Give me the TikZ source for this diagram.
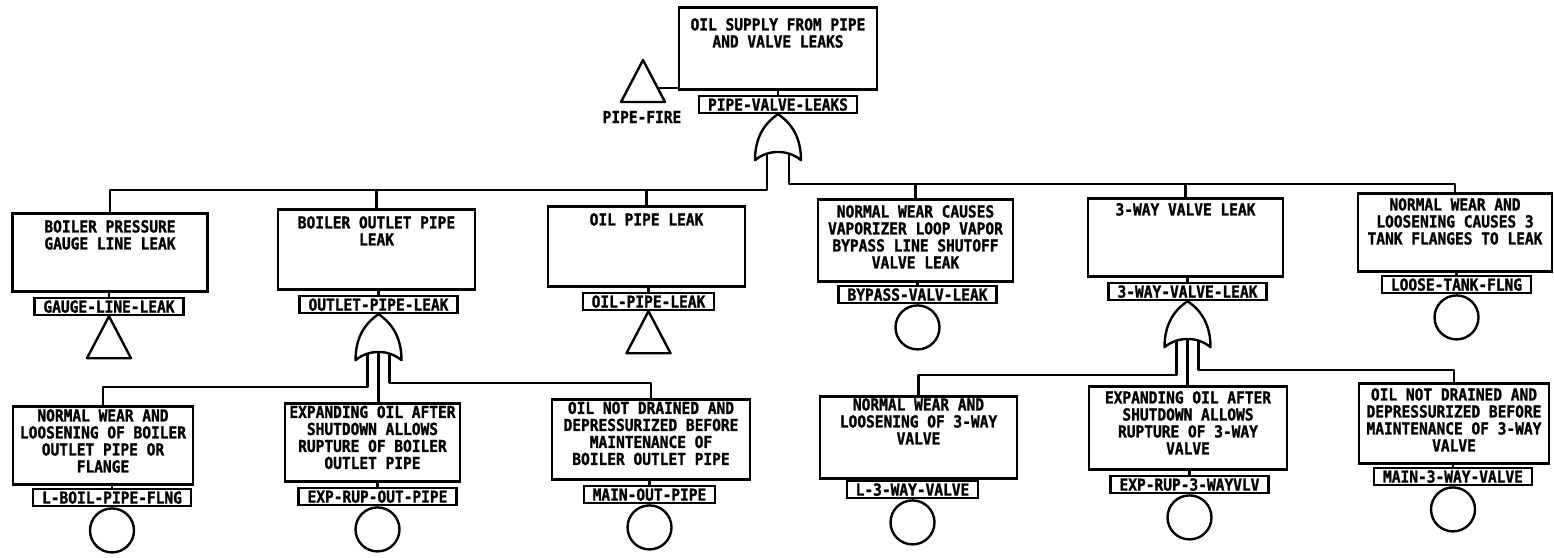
\documentclass[tikz,border=0pt]{standalone}
\usepackage{fontspec}
\newfontfamily\plotfont{DejaVu Sans Mono}[FakeStretch=0.88, BoldFeatures={FakeBold=1.3}]
\begin{document}
\begin{tikzpicture}[x=1pt,y=-1pt,
  wire/.style={line width=2.4pt, line cap=round, line join=round},
  ebox/.style={draw, line width=2.6pt, rectangle, inner sep=0pt, anchor=north},
  etext/.style={font={\plotfont\bfseries\fontsize{16.5}{17}\selectfont}, align=center, inner sep=0pt, anchor=north},
  tag/.style={draw, line width=2.2pt, font={\plotfont\bfseries\fontsize{16.5}{17}\selectfont},
    inner xsep=9pt, inner ysep=2.5pt, text height=12pt, text depth=0pt, anchor=north},
  basic/.style={draw, circle, line width=2.4pt, minimum size=44pt, inner sep=0pt, anchor=north},
  orgate/.pic={
    \draw[wire] (0,0) .. controls (-15,10) and (-23,25) .. (-23,46)
      .. controls (-10,35) and (10,35) .. (23,46)
      .. controls (23,25) and (15,10) .. cycle;
    \coordinate (-l) at (-11,40);
    \coordinate (-r) at (11,40);
    \coordinate (-m) at (0,38);
  },
  xfer/.pic={\draw[wire] (0,0) -- (-22,42) -- (22,42) -- cycle;}
]
\fill[white] (0,0) rectangle (1554,557);
\useasboundingbox (0,0) rectangle (1554,557);

% ---------- top event ----------
\node[ebox, minimum width=198pt, minimum height=82pt] (b0) at (778,6) {};
\node[etext] (e0) at ([yshift=-12pt]b0.north) {OIL SUPPLY FROM PIPE\\AND VALVE LEAKS};
\node[tag] (t0) at (778,95) {PIPE-VALVE-LEAKS};
\draw[wire] (t0.north |- b0.south) -- (t0.north);
\pic (g0) at (t0.south) {orgate};

% transfer to PIPE-FIRE
\pic at (643,60) {xfer};
\coordinate (pf) at (657.7,88);
\draw[wire] (pf) -- (pf -| b0.west);
\node[etext, anchor=center] (pflabel) at (642,117) {PIPE-FIRE};

% ---------- second level ----------
\node[ebox, minimum width=195pt, minimum height=78pt] (b1) at (110,212) {};
\node[etext] (e1) at ([yshift=-8pt]b1.north) {BOILER PRESSURE\\GAUGE LINE LEAK};
\node[tag] (t1) at (109,297) {GAUGE-LINE-LEAK};

\node[ebox, minimum width=197pt, minimum height=80pt] (b2) at (376.5,208) {};
\node[etext] (e2) at ([yshift=-8pt]b2.north) {BOILER OUTLET PIPE\\LEAK};
\node[tag] (t2) at (378.5,295) {OUTLET-PIPE-LEAK};

\node[ebox, minimum width=197pt, minimum height=80pt] (b3) at (646.5,205) {};
\node[etext] (e3) at ([yshift=-8pt]b3.north) {OIL PIPE LEAK};
\node[tag] (t3) at (648.5,292) {OIL-PIPE-LEAK};

\node[ebox, minimum width=195pt, minimum height=82pt] (b4) at (915.5,198) {};
\node[etext] (e4) at ([yshift=-7pt]b4.north) {NORMAL WEAR CAUSES\\VAPORIZER LOOP VAPOR\\BYPASS LINE SHUTOFF\\VALVE LEAK};
\node[tag] (t4) at (917.5,285) {BYPASS-VALV-LEAK};

\node[ebox, minimum width=195pt, minimum height=78pt] (b5) at (1185.5,197) {};
\node[etext] (e5) at ([yshift=-6pt]b5.north) {3-WAY VALVE LEAK};
\node[tag] (t5) at (1187.5,282) {3-WAY-VALVE-LEAK};

\node[ebox, minimum width=194pt, minimum height=78pt] (b6) at (1455,192) {};
\node[etext] (e6) at ([yshift=-6pt]b6.north) {NORMAL WEAR AND\\LOOSENING CAUSES 3\\TANK FLANGES TO LEAK};
\node[tag] (t6) at (1456.5,275) {LOOSE-TANK-FLNG};

\foreach \i in {1,...,6} {\draw[wire] (t\i.north |- b\i.south) -- (t\i.north);}

\pic at (t1.south) {xfer};
\pic (g2) at (t2.south) {orgate};
\pic at (t3.south) {xfer};
\node[basic] (c4) at (t4.south) {};
\pic (g5) at (t5.south) {orgate};
\node[basic] (c6) at (t6.south) {};

% ---------- third level ----------
\node[ebox, minimum width=180pt, minimum height=78pt] (b7) at (103,405) {};
\node[etext] (e7) at ([yshift=-4pt]b7.north) {NORMAL WEAR AND\\LOOSENING OF BOILER\\OUTLET PIPE OR\\FLANGE};
\node[tag] (t7) at (112,488) {L-BOIL-PIPE-FLNG};

\node[ebox, minimum width=175pt, minimum height=78pt] (b8) at (372.5,402) {};
\node[etext] (e8) at ([yshift=-3.5pt]b8.north) {EXPANDING OIL AFTER\\SHUTDOWN ALLOWS\\RUPTURE OF BOILER\\OUTLET PIPE};
\node[tag] (t8) at (377.5,487) {EXP-RUP-OUT-PIPE};

\node[ebox, minimum width=198pt, minimum height=80pt] (b9) at (651,398) {};
\node[etext] (e9) at ([yshift=-3.5pt]b9.north) {OIL NOT DRAINED AND\\DEPRESSURIZED BEFORE\\MAINTENANCE OF\\BOILER OUTLET PIPE};
\node[tag] (t9) at (649.5,485) {MAIN-OUT-PIPE};

\node[ebox, minimum width=197pt, minimum height=82pt] (b10) at (918.5,395) {};
\node[etext] (e10) at ([yshift=-3pt]b10.north) {NORMAL WEAR AND\\LOOSENING OF 3-WAY\\VALVE};
\node[tag] (t10) at (912.5,480) {L-3-WAY-VALVE};

\node[ebox, minimum width=198pt, minimum height=83pt] (b11) at (1188,385) {};
\node[etext] (e11) at ([yshift=-6pt]b11.north) {EXPANDING OIL AFTER\\SHUTDOWN ALLOWS\\RUPTURE OF 3-WAY\\VALVE};
\node[tag] (t11) at (1189.5,475) {EXP-RUP-3-WAYVLV};

\node[ebox, minimum width=190pt, minimum height=80pt] (b12) at (1454,382) {};
\node[etext] (e12) at ([yshift=-6pt]b12.north) {OIL NOT DRAINED AND\\DEPRESSURIZED BEFORE\\MAINTENANCE OF 3-WAY\\VALVE};
\node[tag] (t12) at (1453,467) {MAIN-3-WAY-VALVE};

\foreach \i in {7,...,12} {
  \draw[wire] (t\i.north |- b\i.south) -- (t\i.north);
  \node[basic] (c\i) at (t\i.south) {};
}

% ---------- connectors ----------
\coordinate (busA) at (0,190);
\coordinate (busB) at (0,184);
\draw[wire] (g0-l) |- (b1.north |- busA) -- (b1.north);
\draw[wire] (b2.north |- busA) -- (b2.north);
\draw[wire] (b3.north |- busA) -- (b3.north);
\draw[wire] (g0-r) |- (b6.north |- busB) -- (b6.north);
\draw[wire] (b4.north |- busB) -- (b4.north);
\draw[wire] (b5.north |- busB) -- (b5.north);

\coordinate (busC) at (0,387);
\coordinate (busD) at (0,383);
\coordinate (busE) at (0,375);
\coordinate (busF) at (0,370);
\draw[wire] (g2-l) |- (b7.north |- busC) -- (b7.north);
\draw[wire] (g2-m) -- (g2-m |- b8.north);
\draw[wire] (g2-r) |- (b9.north |- busD) -- (b9.north);
\draw[wire] (g5-l) |- (b10.north |- busE) -- (b10.north);
\draw[wire] (g5-m) -- (g5-m |- b11.north);
\draw[wire] (g5-r) |- (b12.north |- busF) -- (b12.north);
\end{tikzpicture}
\end{document}
